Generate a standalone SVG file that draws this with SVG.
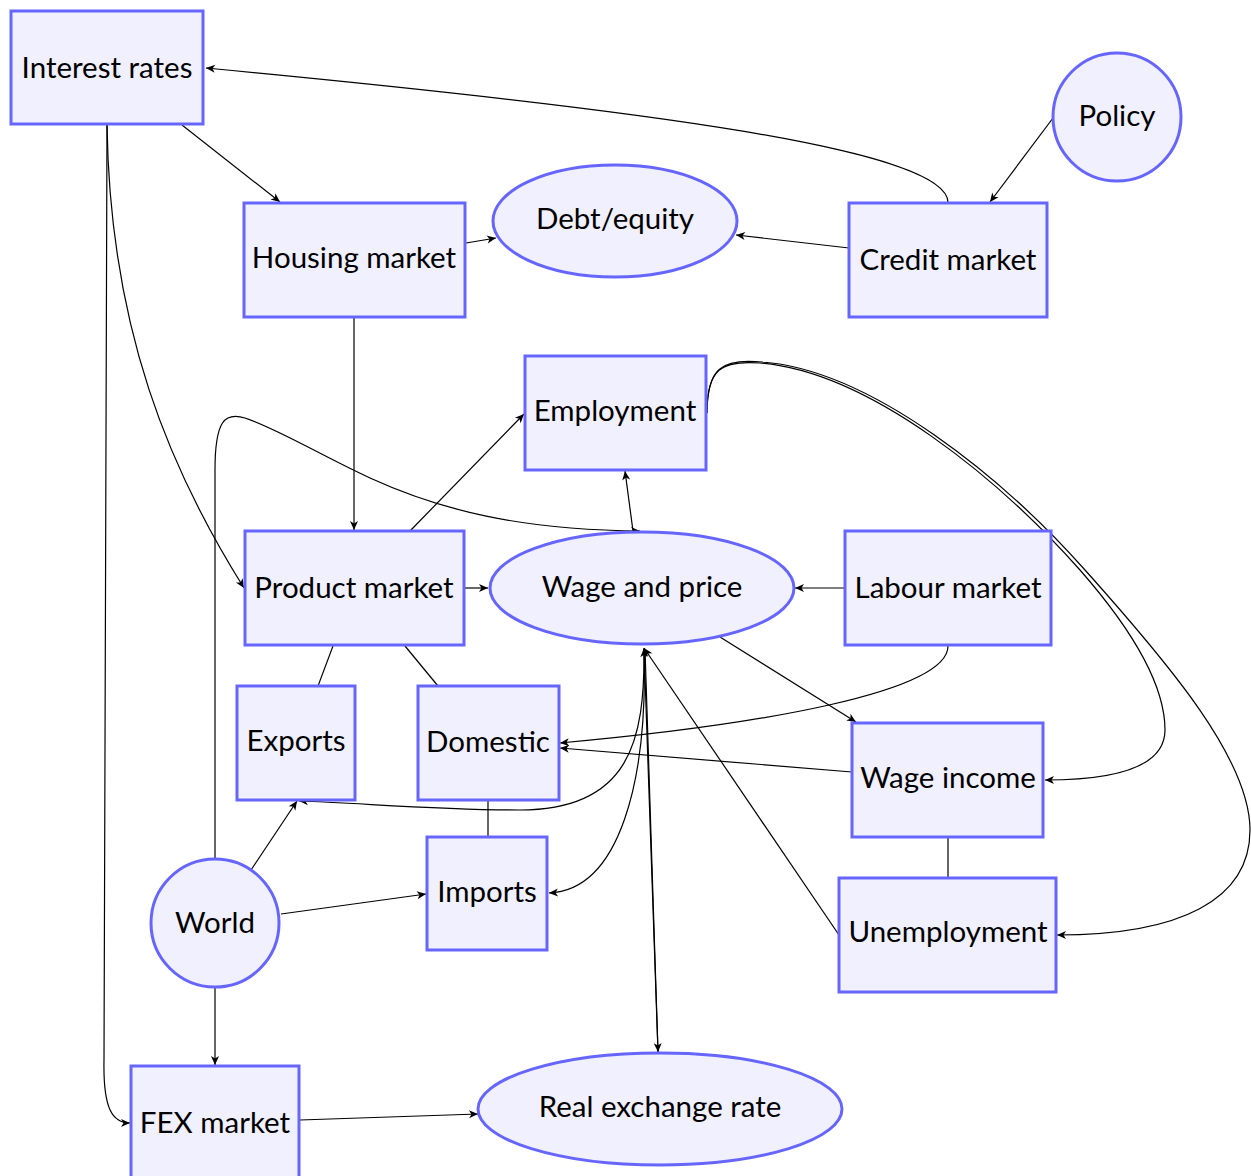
<svg xmlns="http://www.w3.org/2000/svg" width="1251" height="1176" viewBox="0 0 1251 1176">
<style>
.n rect, .n ellipse, .n circle { fill: #f0f0ff; stroke: #6666ff; stroke-width: 3; }
.n text { font-family: Lato, "Liberation Sans", sans-serif; font-size: 29.5px; fill: #000; text-anchor: middle; }
#edges path, #edges line { fill: none; stroke: #000; stroke-width: 1.2; }
.a { marker-end: url(#arr); }
</style>
<defs>
<marker id="arr" markerUnits="userSpaceOnUse" viewBox="-10 -5 11 10" refX="0" refY="0" markerWidth="11" markerHeight="10" orient="auto">
<path d="M-9,-4 L0,0 L-9,4 L-6.5,0 Z" fill="#000" stroke="none"/>
</marker>
</defs>
<rect width="1251" height="1176" fill="#fff"/>
<g id="edges">
<path class="a" d="M948,203 C950,150 650,110 206,68"/>
<line class="a" x1="1053" y1="118" x2="990" y2="202"/>
<line class="a" x1="182" y1="125" x2="280" y2="202"/>
<line class="a" x1="466" y1="243" x2="496" y2="238"/>
<line class="a" x1="849" y1="248" x2="736" y2="235"/>
<path class="a" d="M107,125 C110,330 170,470 244,588"/>
<path class="a" d="M107,125 L104,1060 C103,1110 113,1123 130,1123"/>
<line class="a" x1="354" y1="318" x2="354" y2="530"/>
<line class="a" x1="410" y1="531" x2="524" y2="414"/>
<path class="a" d="M215,859 L215,470 C215,420 225,412 245,418 C280,430 320,455 370,478 C440,510 520,530 640,531"/>
<line class="a" x1="633" y1="531" x2="625" y2="471"/>
<path class="a" d="M707,413 C707,370 720,360 760,363 C870,372 1000,480 1080,570 C1150,650 1165,700 1165,730 C1165,765 1120,780 1045,780"/>
<path class="a" d="M707,413 C707,368 722,358 762,362 C872,370 1005,480 1085,570 C1170,665 1250,760 1250,830 C1250,900 1180,935 1057,935"/>
<line class="a" x1="845" y1="588" x2="795" y2="588"/>
<line class="a" x1="465" y1="588" x2="488" y2="588"/>
<line x1="333" y1="646" x2="318" y2="686"/>
<line x1="405" y1="646" x2="438" y2="686"/>
<line class="a" x1="720" y1="637" x2="856" y2="722"/>
<path class="a" d="M948,646 C948,692 760,725 560,743"/>
<line class="a" x1="852" y1="772" x2="560" y2="748"/>
<line x1="488" y1="800" x2="488" y2="837"/>
<line x1="948" y1="837" x2="948" y2="878"/>
<line class="a" x1="839" y1="935" x2="644" y2="648"/>
<line class="a" x1="251" y1="870" x2="297" y2="801"/>
<line class="a" x1="281" y1="914" x2="426" y2="894"/>
<path class="a" d="M644,649 C645,740 630,810 520,810 C440,810 360,803 299,801"/>
<path class="a" d="M644,649 C648,780 620,890 549,893"/>
<line class="a" x1="645" y1="649" x2="658" y2="1052"/>
<line class="a" x1="658" y1="1052" x2="644" y2="648"/>
<line class="a" x1="215" y1="988" x2="215" y2="1065"/>
<line class="a" x1="300" y1="1120" x2="478" y2="1114"/>
</g>
<g id="interest-rates" class="n"><rect x="11" y="11" width="192" height="113"/><text x="107" y="78">Interest rates</text></g>
<g id="housing-market" class="n"><rect x="244" y="203" width="221" height="114"/><text x="354" y="268">Housing market</text></g>
<g id="debt-equity" class="n"><ellipse cx="615" cy="221" rx="122" ry="56"/><text x="615" y="229">Debt/equity</text></g>
<g id="credit-market" class="n"><rect x="849" y="203" width="198" height="114"/><text x="948" y="270">Credit market</text></g>
<g id="policy" class="n"><circle cx="1117" cy="117" r="64"/><text x="1117" y="126">Policy</text></g>
<g id="employment" class="n"><rect x="525" y="356" width="181" height="114"/><text x="615" y="421">Employment</text></g>
<g id="product-market" class="n"><rect x="245" y="531" width="219" height="114"/><text x="354" y="598">Product market</text></g>
<g id="wage-and-price" class="n"><ellipse cx="642" cy="588" rx="152" ry="56"/><text x="642" y="597">Wage and price</text></g>
<g id="labour-market" class="n"><rect x="845" y="531" width="206" height="114"/><text x="948" y="598">Labour market</text></g>
<g id="exports" class="n"><rect x="237" y="686" width="118" height="114"/><text x="296" y="751">Exports</text></g>
<g id="domestic" class="n"><rect x="418" y="686" width="141" height="114"/><text x="488" y="752">Domestic</text></g>
<g id="wage-income" class="n"><rect x="852" y="723" width="191" height="114"/><text x="948" y="788">Wage income</text></g>
<g id="imports" class="n"><rect x="427" y="837" width="120" height="113"/><text x="487" y="902">Imports</text></g>
<g id="world" class="n"><circle cx="215" cy="923" r="64"/><text x="215" y="933">World</text></g>
<g id="unemployment" class="n"><rect x="839" y="878" width="217" height="114"/><text x="948" y="942">Unemployment</text></g>
<g id="fex-market" class="n"><rect x="131" y="1066" width="168" height="114"/><text x="215" y="1133">FEX market</text></g>
<g id="real-exchange-rate" class="n"><ellipse cx="660" cy="1109" rx="182" ry="56"/><text x="660" y="1117">Real exchange rate</text></g>
</svg>
